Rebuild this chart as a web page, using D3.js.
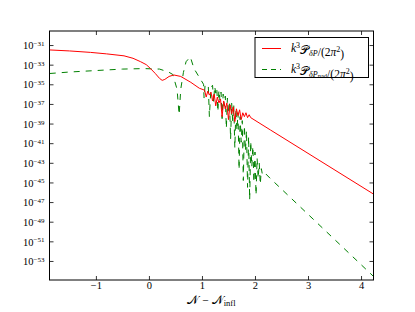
<!DOCTYPE html>
<html><head><meta charset="utf-8">
<script src="https://cdn.jsdelivr.net/npm/d3@7"></script>
<style>body{margin:0;background:#fff}svg{display:block}text,tspan{font-family:"Liberation Serif","DejaVu Serif",serif;fill:#000}</style>
</head><body><svg id="c" width="415" height="312"></svg>
<script>
// x values (N - N_infl) and log10 of the spectra
const redX   = [-1.87,-1.5,-1.1,-0.8,-0.47,-0.3,-0.156,-0.05,0.03,0.12,0.2,0.25,0.3,0.38,0.47,0.6,0.79,0.95,1.05,1.08,1.11,1.14,1.17,1.2,1.23,1.26,1.29,1.32,1.35,1.38,1.41,1.44,1.47,1.5,1.53,1.56,1.59,1.62,1.65,1.68,1.71,1.74,1.77,1.8,1.83,1.86,1.89,1.92,2.29,4.24];
const redLog = [-31.5,-31.6,-31.75,-31.9,-32.1,-32.35,-32.7,-33.0,-33.4,-33.9,-34.4,-34.6,-34.5,-34.2,-34.05,-34.2,-34.8,-35.4,-35.6,-36.3,-35.7,-36.1,-35.8,-36.7,-36.0,-37.2,-36.3,-36.9,-36.5,-38.3,-36.7,-37.5,-36.9,-38.6,-37.1,-38.0,-37.3,-38.8,-37.5,-38.2,-37.6,-38.6,-37.9,-38.3,-37.9,-38.4,-38.1,-38.4,-39.65,-46.2];
const greenX   = [-1.87,-1.5,-1.0,-0.5,-0.1,0.2,0.37,0.45,0.53,0.57,0.60,0.65,0.70,0.78,0.85,0.94,1.03,1.04,1.06,1.12,1.14,1.17,1.20,1.22,1.24,1.26,1.28,1.30,1.32,1.34,1.36,1.38,1.40,1.42,1.44,1.46,1.48,1.50,1.52,1.54,1.56,1.58,1.60,1.62,1.64,1.66,1.68,1.70,1.72,1.74,1.76,1.78,1.80,1.82,1.84,1.86,1.88,1.90,1.92,1.94,1.96,1.98,2.00,2.02,2.04,2.06,2.08,2.10,2.12,2.14,2.18,2.29,4.24];
const greenLog = [-33.9,-33.75,-33.6,-33.45,-33.4,-33.45,-33.75,-34.0,-35.5,-38.1,-35.5,-33.8,-32.7,-32.2,-33.4,-34.2,-35.0,-36.4,-35.0,-35.2,-38.3,-35.3,-35.1,-36.8,-35.2,-35.9,-35.4,-37.8,-35.6,-36.6,-35.8,-38.5,-36.0,-37.2,-36.2,-39.5,-36.4,-38.0,-36.7,-40.6,-36.9,-38.8,-37.1,-41.5,-37.5,-39.7,-37.9,-43.7,-38.3,-40.9,-38.7,-44.8,-39.2,-41.8,-39.7,-45.5,-40.3,-46.8,-40.8,-43.4,-41.3,-45.0,-41.9,-46.3,-42.5,-44.6,-43.0,-45.2,-43.6,-44.2,-44.0,-44.6,-54.6];
const xTicks = [-1,0,1,2,3,4];
const yTickExps = [-31,-33,-35,-37,-39,-41,-43,-45,-47,-49,-51,-53];
const seriesSubs = [["δP",null],["δP","nad"]];

const L=49.5,R=373.5,T=31,B=280;
const svg=d3.select("#c");
const x=d3.scaleLinear().domain([-1.875,4.235]).range([L,R]);
const y=d3.scaleLog().domain([Math.pow(10,-54.94),Math.pow(10,-29.57)]).range([B,T]);

svg.append("clipPath").attr("id","cp").append("rect").attr("x",L).attr("y",T).attr("width",R-L).attr("height",B-T);
const line=d3.line().x(d=>x(d[0])).y(d=>y(Math.pow(10,d[1])));
const red=redX.map((v,i)=>[v,redLog[i]]);
const green=greenX.map((v,i)=>[v,greenLog[i]]);
const g=svg.append("g").attr("clip-path","url(#cp)");
g.append("path").datum(green).attr("d",line).attr("fill","none").attr("stroke","#008000").attr("stroke-width",1).attr("stroke-dasharray","6,6");
g.append("path").datum(red).attr("d",line).attr("fill","none").attr("stroke","#ff0000").attr("stroke-width",1);

// axes (ticks inward on all sides)
const yTicks=yTickExps.map(e=>Math.pow(10,e));
const bx=svg.append("g").attr("transform",`translate(0,${B})`).call(d3.axisBottom(x).tickValues(xTicks).tickSizeInner(-4).tickSizeOuter(0).tickPadding(2).tickFormat(d=>d<0?"\u2212"+Math.abs(d):d));
const tx=svg.append("g").attr("transform",`translate(0,${T})`).call(d3.axisTop(x).tickValues(xTicks).tickSizeInner(-4).tickSizeOuter(0).tickFormat(""));
const ly=svg.append("g").attr("transform",`translate(${L},0)`).call(d3.axisLeft(y).tickValues(yTicks).tickSizeInner(-4).tickSizeOuter(0).tickFormat(""));
const ry=svg.append("g").attr("transform",`translate(${R},0)`).call(d3.axisRight(y).tickValues(yTicks).tickSizeInner(-4).tickSizeOuter(0).tickFormat(""));
[bx,tx,ly,ry].forEach(a=>{a.select(".domain").remove();a.selectAll("line").attr("stroke","#000").attr("stroke-width",0.8);});
bx.selectAll("text").attr("font-size",10.5).attr("fill","#000");
ly.selectAll(".tick").each(function(d,i){
  const t=d3.select(this).append("text").attr("x",-5).attr("dy","0.35em").attr("text-anchor","end").attr("font-size",10.5);
  t.append("tspan").text("10");
  t.append("tspan").attr("dy","-0.45em").attr("font-size",7).text("\u2212"+Math.abs(yTickExps[i]));
});
svg.append("rect").attr("x",L).attr("y",T).attr("width",R-L).attr("height",B-T).attr("fill","none").attr("stroke","#000").attr("stroke-width",1);

// x label
const xl=svg.append("text").attr("x",(L+R)/2).attr("y",303.5).attr("text-anchor","middle").attr("font-size",11.5);
xl.append("tspan").text("𝒩");
xl.append("tspan").text(" \u2212 ");
xl.append("tspan").text("𝒩");
xl.append("tspan").attr("dy","0.25em").attr("font-size",8.5).text("infl");

// legend
const lg=svg.append("g");
lg.append("rect").attr("x",255).attr("y",37.5).attr("width",113.5).attr("height",40).attr("fill","#fff").attr("stroke","#000").attr("stroke-width",1);
const rows=[{c:"#ff0000",d:null,y:48.5},{c:"#008000",d:"6,6",y:69.5}];
rows.forEach((r,i)=>{
  const l=lg.append("line").attr("x1",262).attr("x2",281).attr("y1",r.y).attr("y2",r.y).attr("stroke",r.c).attr("stroke-width",1);
  if(r.d) l.attr("stroke-dasharray","5,4");
  const t=lg.append("text").attr("x",291).attr("y",r.y+3.5).attr("font-size",11.5);
  t.append("tspan").attr("font-style","italic").text("k");
  t.append("tspan").attr("dy","-0.45em").attr("font-size",8).text("3");
  t.append("tspan").attr("dy","0.45em").text("𝒫");
  t.append("tspan").attr("dy","0.3em").attr("font-size",8).attr("font-style","italic").text(seriesSubs[i][0]);
  if(seriesSubs[i][1]){t.append("tspan").attr("dy","0.15em").attr("font-size",6.5).text(seriesSubs[i][1]);t.append("tspan").attr("dy","-0.45em").text("");}
  else t.append("tspan").attr("dy","-0.3em").text("");
  t.append("tspan").text("/(2");
  t.append("tspan").attr("font-style","italic").text("π");
  t.append("tspan").attr("dy","-0.45em").attr("font-size",8).text("2");
  t.append("tspan").attr("dy","0.45em").text(")");
});
</script></body></html>
